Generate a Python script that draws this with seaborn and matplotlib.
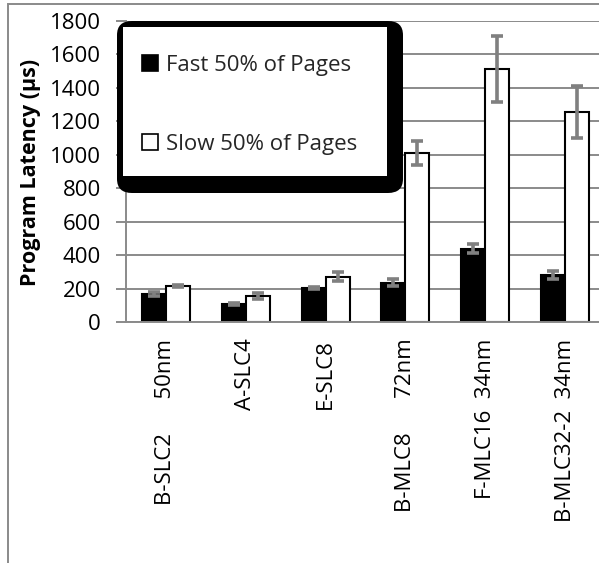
import numpy as np
import pandas as pd
import seaborn as sns
import matplotlib
matplotlib.use("Agg")
import matplotlib.pyplot as plt
from matplotlib.patches import FancyBboxPatch, Patch, Rectangle

# Chip labels (x axis) and the two page groups
chips = ["B-SLC2      50nm", "A-SLC4", "E-SLC8", "B-MLC8      72nm",
         "F-MLC16  34nm", "B-MLC32-2  34nm"]
groups = ["Fast 50% of Pages", "Slow 50% of Pages"]

# Mean program latency (µs) and error-bar half-widths
fast_mean = [168, 106, 206, 235, 438, 280]
fast_err = [10, 6, 6, 22, 27, 22]
slow_mean = [217, 156, 272, 1010, 1515, 1257]
slow_err = [5, 20, 25, 72, 197, 157]

sns.set_theme(style="white")
plt.rcParams["font.family"] = ["Open Sans", "DejaVu Sans"]

W, H = 599, 563
fig = plt.figure(figsize=(W / 100, H / 100), dpi=100)
fig.patch.set_facecolor("white")


def fx(px):
    return px / W


def fy(py):
    return 1 - py / H


AX_L, AX_R, AX_T, AX_B = 126, 605, 21, 322
ax = fig.add_axes([fx(AX_L), fy(AX_B), fx(AX_R) - fx(AX_L), fy(AX_T) - fy(AX_B)])

df = pd.DataFrame({
    "chip": chips * 2,
    "group": [groups[0]] * len(chips) + [groups[1]] * len(chips),
    "latency": fast_mean + slow_mean,
})

sns.barplot(data=df, x="chip", y="latency", hue="group", order=chips,
            hue_order=groups, palette=["black", "white"], edgecolor="black",
            linewidth=1.5, width=0.6, errorbar=None, legend=False, ax=ax,
            zorder=2)

# Error bars at the centre of each drawn bar
bars = ax.patches
errs = fast_err + slow_err
means = fast_mean + slow_mean
for bar, m, e in zip(bars, means, errs):
    cx = bar.get_x() + bar.get_width() / 2
    ax.errorbar(cx, m, yerr=e, color="#808080", elinewidth=2.6,
                capsize=4.5, capthick=2.6, zorder=3)

ax.set_ylim(0, 1800)
ax.set_xlim(-0.5, 5.5)
ax.set_yticks(np.arange(0, 1801, 200))
ax.set_axisbelow(True)
ax.yaxis.grid(True, color="#8a8a8a", linewidth=1.4)
ax.xaxis.grid(False)

for s in ["top", "right"]:
    ax.spines[s].set_visible(False)
for s in ["left", "bottom"]:
    ax.spines[s].set_color("#8a8a8a")
    ax.spines[s].set_linewidth(1.4)

# Category boundary ticks on x, outward ticks on y
ax.set_xticks(np.arange(len(chips)))
ax.set_xticklabels(chips, rotation=90, fontsize=16, va="top", ha="center")
ax.set_xticks(np.arange(-0.5, len(chips) + 0.5, 1), minor=True)
ax.tick_params(axis="x", which="major", length=0, pad=12)
ax.tick_params(axis="x", which="minor", length=7, width=1.4,
               color="#8a8a8a", direction="out")
ax.tick_params(axis="y", length=7, width=1.4, color="#8a8a8a",
               direction="out", labelsize=16, pad=11, left=True)
for t in ax.get_yticklabels() + ax.get_xticklabels():
    t.set_color("black")

ax.set_xlabel("")
ax.set_ylabel("Program Latency (µs)", fontsize=15.5, fontweight="bold",
              color="black")
ax.yaxis.set_label_coords((41 - AX_L) / (AX_R - AX_L),
                          (AX_B - 172) / (AX_B - AX_T))

# Legend box: black offset backing plus white panel
back = FancyBboxPatch((fx(117), fy(193)), fx(403) - fx(117), fy(21) - fy(193),
                      boxstyle="round,pad=0,rounding_size=0.025",
                      transform=fig.transFigure, facecolor="black",
                      edgecolor="none", clip_on=False, zorder=8)
panel = Rectangle((fx(123), fy(176)), fx(387) - fx(123), fy(27) - fy(176),
                  transform=fig.transFigure, facecolor="white",
                  edgecolor="none", clip_on=False, zorder=9)
ax.add_artist(back)
ax.add_artist(panel)

handles = [Patch(facecolor="black", edgecolor="black", linewidth=1.2),
           Patch(facecolor="white", edgecolor="black", linewidth=1.2)]
leg = ax.legend(handles, groups, loc="upper left",
                bbox_to_anchor=(fx(142), fy(55)), bbox_transform=fig.transFigure,
                frameon=False, fontsize=16, handlelength=0.7,
                handleheight=0.7, handletextpad=0.4, labelspacing=2.6,
                borderpad=0, borderaxespad=0)
leg.set_zorder(10)

# Outer chart border (top and left edges)
fig.add_artist(Rectangle((fx(8), -0.1), 1.2, fy(4) + 0.1, transform=fig.transFigure,
                         facecolor="none", edgecolor="#8a8a8a", linewidth=1.4,
                         clip_on=False))

fig.savefig("out.png", dpi=100)
